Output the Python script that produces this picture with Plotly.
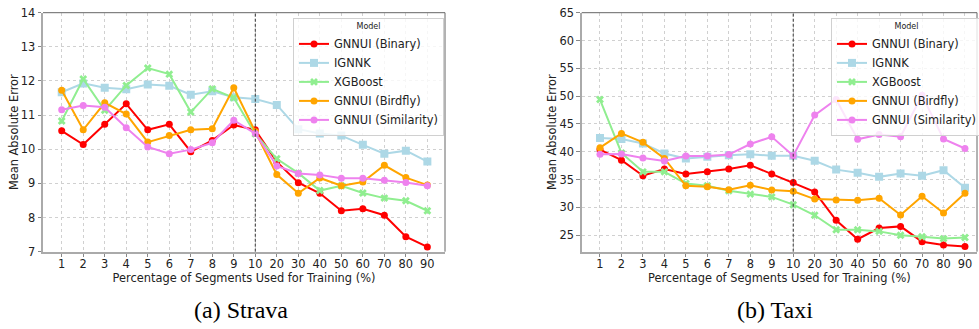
import plotly.graph_objects as go

categories = ["1", "2", "3", "4", "5", "6", "7", "8", "9", "10",
              "20", "30", "40", "50", "60", "70", "80", "90"]

series_names = ["GNNUI (Binary)", "IGNNK", "XGBoost", "GNNUI (Birdfly)", "GNNUI (Similarity)"]

strava_binary = [10.54, 10.14, 10.73, 11.33, 10.57, 10.73, 9.93, 10.26, 10.71, 10.57,
                 9.63, 9.02, 8.71, 8.20, 8.26, 8.07, 7.44, 7.14]
strava_ignnk = [11.67, 11.93, 11.80, 11.76, 11.90, 11.86, 11.60, 11.70, 11.52, 11.47,
                11.30, 10.59, 10.46, 10.40, 10.13, 9.87, 9.96, 9.64]
strava_xgboost = [10.83, 12.06, 11.14, 11.87, 12.38, 12.20, 11.09, 11.77, 11.51, 10.45,
                  9.72, 9.30, 8.79, 8.93, 8.72, 8.57, 8.49, 8.20]
strava_birdfly = [11.73, 10.57, 11.36, 11.03, 10.21, 10.40, 10.57, 10.60, 11.80, 10.51,
                  9.26, 8.71, 9.16, 8.93, 9.04, 9.53, 9.17, 8.95]
strava_similarity = [11.16, 11.28, 11.23, 10.63, 10.07, 9.87, 9.99, 10.19, 10.85, 10.46,
                     9.51, 9.29, 9.25, 9.15, 9.15, 9.09, 9.03, 8.93]

taxi_binary = [40.4, 38.5, 35.7, 36.9, 36.0, 36.4, 36.9, 37.6, 36.0, 34.5,
               32.8, 27.7, 24.3, 26.3, 26.6, 23.85, 23.25, 23.0]
taxi_ignnk = [42.5, 42.3, 41.5, 39.7, 38.8, 39.1, 39.4, 39.55, 39.3, 39.3,
              38.4, 36.8, 36.25, 35.5, 36.1, 35.7, 36.7, 33.55]
taxi_xgboost = [49.4, 39.8, 36.4, 36.4, 34.3, 33.9, 33.0, 32.4, 31.9, 30.5,
                28.6, 26.0, 26.0, 25.7, 25.0, 24.75, 24.4, 24.6]
taxi_birdfly = [40.75, 43.3, 41.7, 38.8, 33.9, 33.7, 33.2, 34.0, 33.15, 32.9,
                31.5, 31.35, 31.3, 31.65, 28.65, 32.0, 29.0, 32.55]
taxi_similarity = [39.55, 39.6, 38.9, 38.35, 39.25, 39.25, 39.5, 41.4, 42.7, 39.3,
                   46.6, 49.4, 42.25, 43.1, 42.7, 50.15, 42.3, 40.6]

strava_ticks = [7, 8, 9, 10, 11, 12, 13, 14]
taxi_ticks = [25, 30, 35, 40, 45, 50, 55, 60, 65]
split_category = "10"

colors = ["#ff0000", "#add8e6", "#90ee90", "#ffa500", "#ee82ee"]
symbols = ["circle", "square", "x", "circle", "circle"]
msizes = [7, 8, 7, 7, 7]

W, H = 979, 329
TXT = "#222222"
FONT = "DejaVu Sans"
FS = 11.4

fig = go.Figure()

panels = [
    ([strava_binary, strava_ignnk, strava_xgboost, strava_birdfly, strava_similarity], "x", "y", "legend"),
    ([taxi_binary, taxi_ignnk, taxi_xgboost, taxi_birdfly, taxi_similarity], "x2", "y2", "legend2"),
]
for data, xa, ya, lg in panels:
    for name, vals, c, s, ms in zip(series_names, data, colors, symbols, msizes):
        fig.add_trace(go.Scatter(
            x=categories, y=vals, name=name, mode="lines+markers",
            line=dict(color=c, width=2),
            marker=dict(color=c, symbol=s, size=ms, line=dict(width=0)),
            xaxis=xa, yaxis=ya, legend=lg,
        ))

left_box = (43, 445)
right_box = (581.7, 977)
top_px, bot_px = 12.7, 251.7
ydom = [(H - bot_px) / H, (H - top_px) / H]

axis_common = dict(
    showline=True, linecolor="#aaaaaa", linewidth=2,
    ticks="outside", ticklen=3.5, tickwidth=1, tickcolor="#888888",
    showgrid=True, gridcolor="#d0d0d0", gridwidth=0.8, griddash="dot",
    zeroline=False,
    tickfont=dict(family=FONT, size=FS, color=TXT),
    title_font=dict(family=FONT, size=FS, color=TXT),
)

fig.update_layout(
    width=W, height=H,
    margin=dict(l=0, r=0, t=0, b=0, autoexpand=False),
    paper_bgcolor="white", plot_bgcolor="white",
    showlegend=True,
    xaxis=dict(domain=[left_box[0] / W, left_box[1] / W], anchor="y", type="category",
               range=[-0.87, 17.82], ticklabelstandoff=-3,
               title=dict(text="Percentage of Segments Used for Training (%)", standoff=0),
               **axis_common),
    yaxis=dict(domain=ydom, anchor="x", range=[7, 14], tickvals=strava_ticks,
               title=dict(text="Mean Absolute Error", standoff=0), **axis_common),
    xaxis2=dict(domain=[right_box[0] / W, right_box[1] / W], anchor="y2", type="category",
                range=[-0.852, 17.56], ticklabelstandoff=-3,
                title=dict(text="Percentage of Segments Used for Training (%)", standoff=0),
                **axis_common),
    yaxis2=dict(domain=ydom, anchor="x2", range=[22.05, 65], tickvals=taxi_ticks,
                title=dict(text="Mean Absolute Error", standoff=0), **axis_common),
)

legend_common = dict(
    xanchor="left", yanchor="top",
    bgcolor="rgba(255,255,255,0.8)", bordercolor="#d0d0d0", borderwidth=1,
    font=dict(family=FONT, size=FS, color=TXT),
    title=dict(text="Model", side="top center", font=dict(family=FONT, size=8, color=TXT)),
    tracegroupgap=0, itemwidth=30,
)
fig.update_layout(
    legend=dict(x=293 / W, y=(H - 18) / H, **legend_common),
    legend2=dict(x=831 / W, y=(H - 18) / H, **legend_common),
)

split_index = categories.index(split_category)
shapes = []
for xr, yr in [("x", "y"), ("x2", "y2")]:
    xd = xr + " domain"
    yd = yr + " domain"
    shapes.append(dict(type="line", xref=xd, yref=yd, x0=0, x1=1, y0=1, y1=1,
                       line=dict(color="#666666", width=1)))
    shapes.append(dict(type="line", xref=xd, yref=yd, x0=1, x1=1, y0=0, y1=1,
                       line=dict(color="#666666", width=1)))
    shapes.append(dict(type="line", xref=xr, yref=yd, x0=split_index, x1=split_index, y0=0, y1=1,
                       line=dict(color="#333333", width=1, dash="3px,2px")))
fig.update_layout(shapes=shapes)

fig.add_annotation(text="(a) Strava", x=241 / W, y=(H - 310) / H, xref="paper", yref="paper",
                   showarrow=False, xanchor="center", yanchor="middle",
                   font=dict(family="Liberation Serif", size=24, color="black"))
fig.add_annotation(text="(b) Taxi", x=775 / W, y=(H - 310) / H, xref="paper", yref="paper",
                   showarrow=False, xanchor="center", yanchor="middle",
                   font=dict(family="Liberation Serif", size=24, color="black"))

fig.write_html("out.html", config={"displayModeBar": False},
               post_script="document.body.style.margin='0px';document.body.style.overflow='hidden';")
